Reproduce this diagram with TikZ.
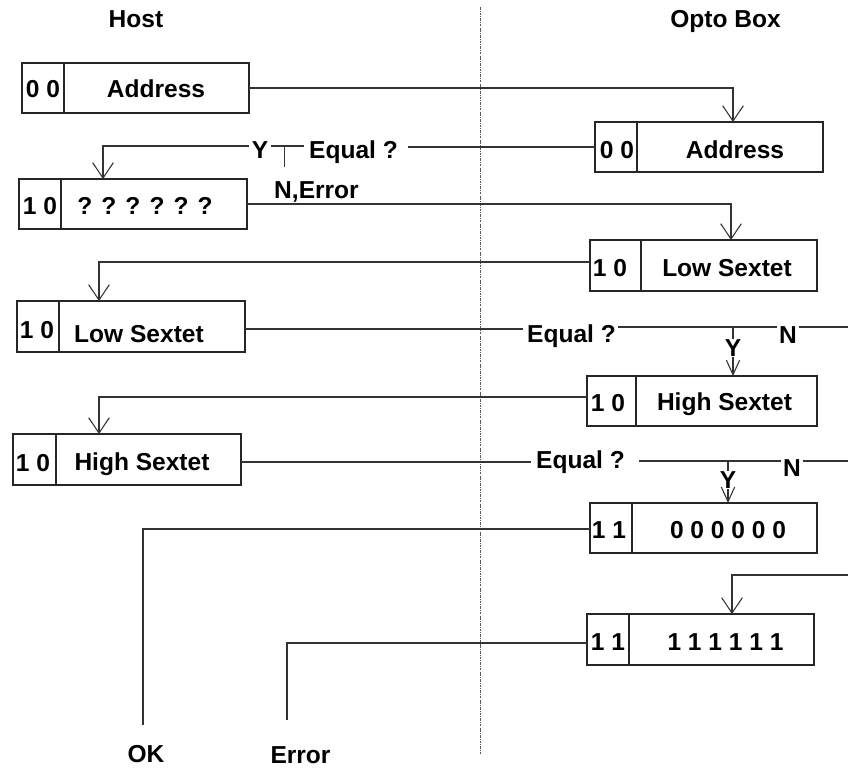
\documentclass[tikz,border=0pt]{standalone}
\usepackage{fontspec}
\setmainfont{Liberation Sans}
\usetikzlibrary{arrows.meta,calc}
\newcommand{\twobox}[6]{%
  \node[cell, minimum width={(#3-#2)*0.75pt}, minimum height={(#6-#5)*0.75pt}] (#1c) at (#2,#5) {};
  \node[cell, minimum width={(#4-#3)*0.75pt}, minimum height={(#6-#5)*0.75pt}] (#1) at (#3,#5) {};}
\begin{document}
\begin{tikzpicture}[x=0.75pt,y=-0.75pt,
  cell/.style={draw=black!85, line width=1pt, inner sep=0pt, outer sep=0pt, anchor=north west},
  txt/.style={font=\fontsize{18.4}{22}\selectfont\bfseries, inner sep=0pt, outer sep=0pt, text height=13.2pt, text depth=0pt},
  conn/.style={draw=black!80, line width=0.8pt},
  arr/.style={conn, -{Straight Barb[length=11.5pt,width=15.5pt]}},
  sarr/.style={conn, -{Straight Barb[length=11pt,width=10pt]}},
  sepline/.style={draw=black!65, line width=0.7pt, dash pattern=on 2pt off 0.8pt on 0.6pt off 0.8pt}]
\fill[white] (0,0) rectangle (848,767);
\useasboundingbox (0,0) rectangle (848,767);

% separator
\coordinate (s1) at (480,7);
\coordinate (s2) at (480,755);
\draw[sepline] (s1) -- (s2);

% boxes
\twobox{h1}{22}{64}{249}{63}{113}
\twobox{o1}{595}{637}{823}{122}{172}
\twobox{h2}{19}{61}{247}{179}{229}
\twobox{o2}{590}{641}{817}{240}{291}
\twobox{h3}{17}{59}{245}{301}{352}
\twobox{o3}{587}{636}{817}{376}{426}
\twobox{h4}{13}{56}{241}{434}{485}
\twobox{o4}{590}{632}{817}{503}{553}
\twobox{o5}{587}{629}{814}{614}{665}

% headings
\node[txt] (th) at (136,19) {Host};
\node[txt] (to) at (725.5,18.5) {Opto Box};

% box texts
\node[txt] (h1ct) at (43,89) {0 0};
\node[txt] (h1t) at (156,89) {Address};
\node[txt] (o1ct) at (617,150) {0 0};
\node[txt] (o1t) at (735,150) {Address};
\node[txt] (h2ct) at (40,206) {1 0};
\node[txt] (h2t) at (145,206) {? ? ? ? ? ?};
\node[txt] (o2ct) at (610,268) {1 0};
\node[txt] (o2t) at (727,268) {Low Sextet};
\node[txt] (h3ct) at (37,330) {1 0};
\node[txt] (h3t) at (139,334) {Low Sextet};
\node[txt] (o3ct) at (608,403) {1 0};
\node[txt] (o3t) at (724.5,402) {High Sextet};
\node[txt] (h4ct) at (33,463) {1 0};
\node[txt] (h4t) at (142,462) {High Sextet};
\node[txt] (o4ct) at (609,530) {1 1};
\node[txt] (o4t) at (728,530) {0 0 0 0 0 0};
\node[txt] (o5ct) at (608,641.5) {1 1};
\node[txt] (o5t) at (725.5,641.5) {1 1 1 1 1 1};

% decision labels
\node[txt] (eq1) at (353.5,149.5) {Equal ?};
\node[txt] (y1) at (260,149.5) {Y};
\node[txt] (ne1) at (316.5,189.5) {N,Error};
\node[txt] (eq2) at (571.5,333.5) {Equal ?};
\node[txt] (n2) at (788,335) {N};
\node[txt] (y2) at (733,348) {Y};
\node[txt] (eq3) at (580.5,460) {Equal ?};
\node[txt] (n3) at (792,468) {N};
\node[txt] (y3) at (728,480) {Y};
\node[txt] (ok) at (146,754) {OK};
\node[txt] (err) at (300.5,755) {Error};

\coordinate (r2) at (848,327);
\coordinate (r3) at (848,461);
\coordinate (r4) at (848,575);

% connectors
\draw[arr] (h1.east) -| ($(o1.north west)+(96,0)$);
\draw[conn] (o1c.west) -- ($(o1c.west -| eq1.east)+(10,0)$);
\draw[conn] ($(eq1.west)+(-5,-3.5)$) -- ($(y1.east)+(3,-3.5)$);
\draw[conn] ($(y1.east)+(16,-3.5)$) -- ++(0,21);
\draw[arr] ($(y1.west)+(-3,-3.5)$) -| ($(h2.north west)+(42,0)$);
\draw[arr] (h2.east) -| ($(o2.north west)+(90,0)$);
\draw[arr] ($(o2c.west)+(0,-3.5)$) -| ($(h3.north west)+(40,0)$);

\draw[conn] ($(h3.east)+(0,2.5)$) -- ($(eq2.west)+(-4,-4.5)$);
\draw[conn] ($(eq2.east)+(2,-6.5)$) -- ($(n2.west)+(-2,-8)$);
\draw[conn] ($(n2.east)+(2,-8)$) -- (r2);
\draw[conn] ($(y2.north)+(0,-12)$) -- (y2.north);
\draw[sarr] (y2.south) -- (y2.south |- o3.north);

\draw[arr] ($(o3c.west)+(0,-4)$) -| ($(h4.north west)+(43,0)$);
\draw[conn] ($(h4.east)+(0,2.5)$) -- ($(eq3.west)+(-5,2)$);
\draw[conn] ($(eq3.east)+(14,1)$) -- ($(n3.west)+(-2,-7)$);
\draw[conn] ($(n3.east)+(2,-7)$) -- (r3);
\draw[conn] ($(y3.north)+(0,-10)$) -- (y3.north);
\draw[sarr] (y3.south) -- (y3.south |- o4.north);

\draw[conn] ($(o4c.west)+(0,1)$) -| ($(ok.north)+(-3,-20)$);
\draw[arr] (r4) -| ($(o5.north west)+(103,0)$);
\draw[conn] ($(o5c.west)+(0,3.5)$) -| ($(err.north)+(-13.5,-26.5)$);
\end{tikzpicture}
\end{document}
